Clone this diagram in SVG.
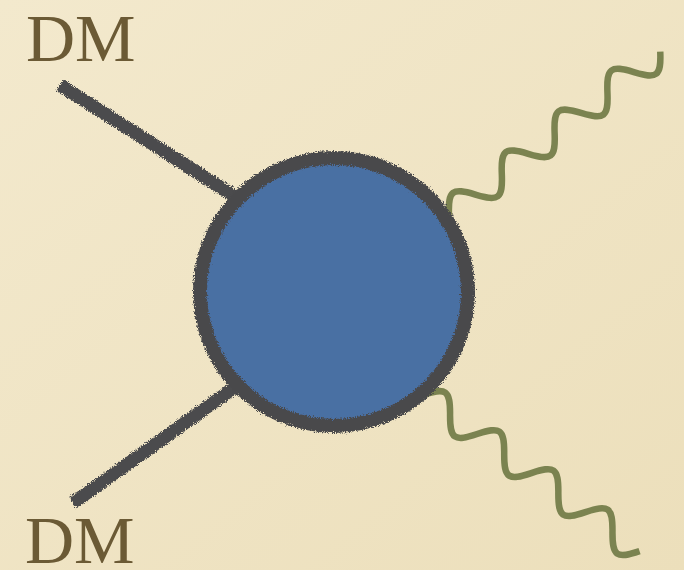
<svg xmlns="http://www.w3.org/2000/svg" width="684" height="570" viewBox="0 0 684 570">
  <defs>
    <style>
      .label { font-family: "Liberation Serif", "Times New Roman", serif; font-size: 68px; fill: #6b5a35; }
      .fermion { stroke: #4b4b4d; stroke-width: 13; stroke-linecap: butt; fill: none; }
      .photon { stroke: #7b8350; stroke-width: 6.5; fill: none; stroke-linecap: butt; }
      .blob { fill: #4a6fa3; stroke: #4a4a4c; stroke-width: 14; }
    </style>
    <linearGradient id="bg" x1="0" y1="0" x2="1" y2="1">
      <stop offset="0" stop-color="#f3e9cd"/>
      <stop offset="1" stop-color="#ecdfbb"/>
    </linearGradient>
    <filter id="rough" x="-10%" y="-10%" width="120%" height="120%">
      <feTurbulence type="fractalNoise" baseFrequency="0.9" numOctaves="2" seed="3" result="n"/>
      <feDisplacementMap in="SourceGraphic" in2="n" scale="6" xChannelSelector="R" yChannelSelector="G"/>
    </filter>
    <path id="wave" d="M0,0 c14.16,-20 19.22,-20 33.375,0 c14.16,20 19.22,20 33.375,0 c14.16,-20 19.22,-20 33.375,0 c14.16,20 19.22,20 33.375,0 c14.16,-20 19.22,-20 33.375,0 c14.16,20 19.22,20 33.375,0 c14.16,-20 19.22,-20 33.375,0 c14.16,20 19.22,20 33.375,0"/>
  </defs>
  <rect width="684" height="570" fill="url(#bg)"/>
  <g id="connectors">
    <line class="fermion" filter="url(#rough)" x1="60" y1="85" x2="245" y2="203"/>
    <line class="fermion" filter="url(#rough)" x1="73" y1="503" x2="245" y2="380"/>
    <use href="#wave" class="photon" transform="translate(449,215) rotate(-37.7)"/>
    <use href="#wave" class="photon" transform="translate(423,395) rotate(35.8)"/>
  </g>
  <g id="blob">
    <circle class="blob" filter="url(#rough)" cx="334" cy="292" r="134"/>
  </g>
  <g id="dm-top">
    <text class="label" x="26" y="61">DM</text>
  </g>
  <g id="dm-bottom">
    <text class="label" x="25" y="563">DM</text>
  </g>
</svg>
